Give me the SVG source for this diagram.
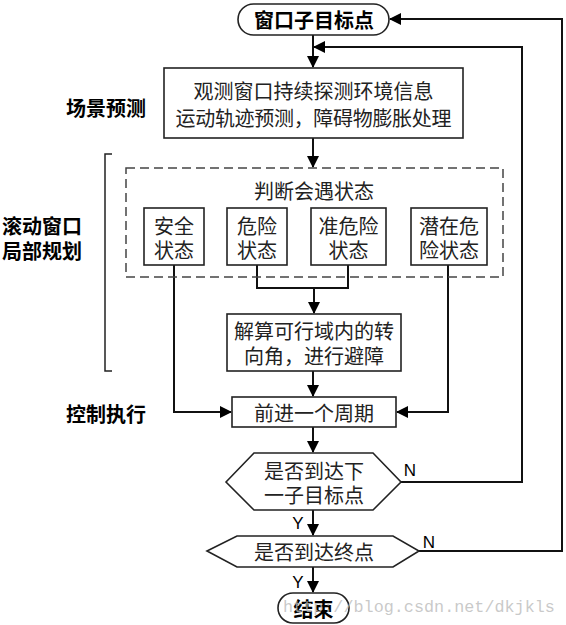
<svg xmlns="http://www.w3.org/2000/svg" width="566" height="625" viewBox="0 0 566 625">
<style>
.box{fill:#fff;stroke:#222;stroke-width:1.6}
.t{font-family:"Noto Sans CJK SC","Noto Sans",sans-serif;font-size:20px;fill:#222;text-anchor:middle;dominant-baseline:central}
.b{font-weight:bold;fill:#000}
.lab{font-family:"Noto Sans CJK SC","Noto Sans",sans-serif;font-size:20px;font-weight:bold;fill:#000;dominant-baseline:central}
.yn{font-family:"Liberation Sans",Arial,sans-serif;font-size:17px;fill:#000;text-anchor:middle;dominant-baseline:central}
.c{fill:none;stroke:#111;stroke-width:2}
</style>
<defs>
<marker id="ah" markerWidth="12" markerHeight="12" refX="11" refY="6" orient="auto" markerUnits="userSpaceOnUse">
<path d="M0,0 L12,6 L0,12 Z" fill="#000"/>
</marker>
</defs>
<rect width="566" height="625" fill="#fff"/>

<g id="labels">
<text class="lab" x="106" y="107" text-anchor="middle">场景预测</text>
<text class="lab" x="42" y="225" text-anchor="middle">滚动窗口</text>
<text class="lab" x="42" y="250" text-anchor="middle">局部规划</text>
<text class="lab" x="106" y="413" text-anchor="middle">控制执行</text>
<path d="M112,154 H105 V371 H112" fill="none" stroke="#222" stroke-width="1.5"/>
</g>

<g id="connectors">
<path class="c" d="M313,35 V67" marker-end="url(#ah)"/>
<path class="c" d="M313,138 V167" marker-end="url(#ah)"/>
<path class="c" d="M257,265 V288 H348 V265"/>
<path class="c" d="M314,288 V313" marker-end="url(#ah)"/>
<path class="c" d="M174,265 V412 H231" marker-end="url(#ah)"/>
<path class="c" d="M448,265 V412 H397" marker-end="url(#ah)"/>
<path class="c" d="M313,371 V396" marker-end="url(#ah)"/>
<path class="c" d="M313,427 V452" marker-end="url(#ah)"/>
<path class="c" d="M313,510 V535" marker-end="url(#ah)"/>
<path class="c" d="M313,567 V592" marker-end="url(#ah)"/>
<path class="c" d="M401,482 H522 V47 H314" marker-end="url(#ah)"/>
<path class="c" d="M419,551 H562 V19 H390" marker-end="url(#ah)"/>
<text class="yn" x="410" y="470">N</text>
<text class="yn" x="429" y="542">N</text>
<text class="yn" x="298" y="523">Y</text>
<text class="yn" x="298" y="582">Y</text>
</g>

<g id="start">
<rect class="box" x="238" y="4" width="151" height="31" rx="15.5"/>
<text class="t b" x="314" y="19.5">窗口子目标点</text>
</g>

<g id="observe">
<rect class="box" x="164" y="68" width="299" height="70"/>
<text class="t" x="313.5" y="90">观测窗口持续探测环境信息</text>
<text class="t" x="313.5" y="117" textLength="276" lengthAdjust="spacing">运动轨迹预测，障碍物膨胀处理</text>
</g>

<g id="judge">
<rect x="126" y="168" width="377" height="109" fill="none" stroke="#444" stroke-width="1.5" stroke-dasharray="9,5"/>
<text class="t" x="314" y="190">判断会遇状态</text>
</g>

<g id="safe">
<rect class="box" x="144" y="208" width="60" height="57"/>
<text class="t" x="174" y="225">安全</text>
<text class="t" x="174" y="249">状态</text>
</g>

<g id="danger">
<rect class="box" x="227" y="208" width="60" height="57"/>
<text class="t" x="257" y="225">危险</text>
<text class="t" x="257" y="249">状态</text>
</g>

<g id="quasi">
<rect class="box" x="311" y="208" width="75" height="57"/>
<text class="t" x="348.5" y="225">准危险</text>
<text class="t" x="348.5" y="249">状态</text>
</g>

<g id="potential">
<rect class="box" x="411" y="208" width="76" height="57"/>
<text class="t" x="449" y="225">潜在危</text>
<text class="t" x="449" y="249">险状态</text>
</g>

<g id="solve">
<rect class="box" x="227" y="314" width="174" height="57"/>
<text class="t" x="314" y="330">解算可行域内的转</text>
<text class="t" x="314" y="355">向角，进行避障</text>
</g>

<g id="advance">
<rect class="box" x="232" y="397" width="164" height="30"/>
<text class="t" x="314" y="412.5">前进一个周期</text>
</g>

<g id="reach-sub">
<polygon class="box" points="226,482 254,453 373,453 401,482 373,510 254,510"/>
<text class="t" x="314" y="470">是否到达下</text>
<text class="t" x="314" y="494">一子目标点</text>
</g>

<g id="reach-end">
<polygon class="box" points="207,551 237,536 393,536 419,551 393,567 237,567"/>
<text class="t" x="314" y="551">是否到达终点</text>
</g>

<g id="end">
<rect class="box" x="278" y="593" width="71" height="30" rx="15"/>
<text class="t b" x="313.5" y="608">结束</text>
</g>

<text x="283" y="612" font-family="Liberation Mono,monospace" font-size="16.8" fill="#bbb" fill-opacity="0.8">http://blog.csdn.net/dkjkls</text>
</svg>
